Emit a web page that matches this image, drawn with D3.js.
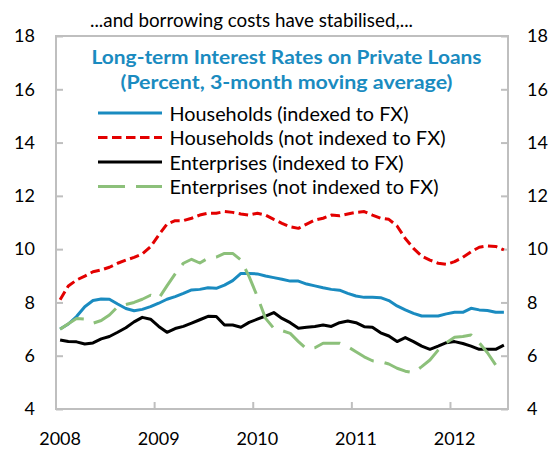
<!DOCTYPE html>
<html>
<head>
<meta charset="utf-8">
<script src="https://cdn.jsdelivr.net/npm/d3@7"></script>
<style>
  body { margin: 0; background: #fff; }
  svg { display: block; font-family: Lato, "Open Sans", sans-serif; }
</style>
</head>
<body>
<svg id="chart" width="555" height="451"></svg>
<script>
// monthly categories, Jan 2008 - Jul 2012
const months = d3.timeMonths(new Date(2008, 0, 1), new Date(2012, 7, 1)).map(d3.timeFormat("%Y-%m"));
const yearLabels = ["2008", "2009", "2010", "2011", "2012"];
const yTicks = [4, 6, 8, 10, 12, 14, 16, 18];

const householdsFX = [7.0, 7.19, 7.47, 7.84, 8.07, 8.13, 8.12, 7.94, 7.77, 7.69, 7.74, 7.84,
  7.97, 8.12, 8.22, 8.34, 8.47, 8.49, 8.55, 8.53, 8.65, 8.82, 9.09, 9.09,
  9.07, 8.99, 8.93, 8.87, 8.8, 8.8, 8.69, 8.62, 8.55, 8.49, 8.46, 8.34,
  8.24, 8.19, 8.19, 8.18, 8.07, 7.87, 7.72, 7.59, 7.49, 7.49, 7.49, 7.57,
  7.63, 7.63, 7.78, 7.72, 7.7, 7.63, 7.63];
const householdsNoFX = [8.1, 8.62, 8.84, 8.99, 9.15, 9.22, 9.32, 9.47, 9.59, 9.69, 9.82, 10.09,
  10.53, 10.94, 11.07, 11.07, 11.16, 11.28, 11.35, 11.35, 11.41, 11.38, 11.32, 11.28,
  11.35, 11.28, 11.12, 10.97, 10.84, 10.78, 10.94, 11.09, 11.16, 11.28, 11.25, 11.32,
  11.38, 11.41, 11.28, 11.16, 11.12, 10.87, 10.4, 10.03, 9.74, 9.59, 9.47, 9.43,
  9.53, 9.69, 9.9, 10.07, 10.12, 10.1, 9.97];
const enterprisesFX = [6.59, 6.53, 6.52, 6.44, 6.48, 6.63, 6.72, 6.88, 7.05, 7.27, 7.44, 7.37,
  7.1, 6.88, 7.02, 7.1, 7.22, 7.35, 7.48, 7.47, 7.15, 7.15, 7.07, 7.25,
  7.37, 7.49, 7.62, 7.4, 7.24, 7.03, 7.07, 7.1, 7.15, 7.1, 7.24, 7.3,
  7.24, 7.09, 7.07, 6.86, 6.74, 6.53, 6.68, 6.53, 6.36, 6.24, 6.36, 6.49,
  6.53, 6.46, 6.36, 6.24, 6.24, 6.24, 6.4];
const enterprisesNoFX = [6.99, 7.2, 7.4, 7.38, 7.22, 7.32, 7.53, 7.84, 7.92, 8.0, 8.12, 8.27,
  8.15, 8.62, 9.07, 9.47, 9.62, 9.48, 9.66, 9.7, 9.84, 9.84, 9.59, 8.97,
  8.22, 7.4, 7.03, 6.94, 6.84, 6.53, 6.25, 6.3, 6.47, 6.47, 6.47, 6.34,
  6.15, 5.96, 5.81, 5.78, 5.69, 5.53, 5.42, 5.36, 5.59, 5.84, 6.21, 6.49,
  6.69, 6.72, 6.78, 6.49, 6.11, 5.65, 5.63];

const seriesNames = ["Households (indexed to FX)", "Households (not indexed to FX)",
  "Enterprises (indexed to FX)", "Enterprises (not indexed to FX)"];

const series = [
  { name: seriesNames[0], values: householdsFX, color: "#1a8bc0", dash: null, legendW: 239 },
  { name: seriesNames[1], values: householdsNoFX, color: "#e30000", dash: "9.5,4.5", legendW: 276 },
  { name: seriesNames[2], values: enterprisesFX, color: "#000000", dash: null, legendW: 234 },
  { name: seriesNames[3], values: enterprisesNoFX, color: "#8cc07a", dash: "27,11", legendW: 269 }
];

const svg = d3.select("#chart");
const plot = { left: 56, right: 508, top: 36, bottom: 409 };

const x = d3.scaleBand().domain(months).range([plot.left, plot.right]);
const bw = x.bandwidth();
const y = d3.scaleLinear().domain([4, 18]).range([plot.bottom, plot.top]);

// plot frame
svg.append("rect")
  .attr("x", plot.left).attr("y", plot.top)
  .attr("width", plot.right - plot.left).attr("height", plot.bottom - plot.top)
  .attr("fill", "none").attr("stroke", "#bfbfbf").attr("stroke-width", 2);

// left / right value axes, ticks pointing inwards
const leftAxis = svg.append("g")
  .attr("transform", `translate(${plot.left},0)`)
  .call(d3.axisLeft(y).tickValues(yTicks).tickSizeInner(-7).tickSizeOuter(0).tickPadding(21));
const rightAxis = svg.append("g")
  .attr("transform", `translate(${plot.right},0)`)
  .call(d3.axisRight(y).tickValues(yTicks).tickSizeInner(-7).tickSizeOuter(0).tickPadding(19));

[leftAxis, rightAxis].forEach(g => {
  g.select(".domain").remove();
  g.selectAll(".tick line").attr("stroke", "#bfbfbf").attr("stroke-width", 2);
  g.selectAll(".tick text").attr("font-size", 18).attr("fill", "#000").attr("font-family", "Lato");
});

// year ticks on category boundaries
const janKeys = months.filter(m => m.endsWith("-01"));
svg.append("g").selectAll("line")
  .data(janKeys.slice(1))
  .join("line")
  .attr("x1", d => x(d)).attr("x2", d => x(d))
  .attr("y1", plot.bottom).attr("y2", plot.bottom - 7)
  .attr("stroke", "#bfbfbf").attr("stroke-width", 2);

// year labels under the January category
const xAxis = svg.append("g")
  .attr("transform", `translate(0,${plot.bottom})`)
  .call(d3.axisBottom(x).tickValues(janKeys)
    .tickFormat((d, i) => yearLabels[i]).tickSize(0).tickPadding(23));
xAxis.select(".domain").remove();
xAxis.selectAll(".tick text").attr("font-size", 18).attr("fill", "#000").attr("font-family", "Lato");

// lines
const line = d3.line()
  .x((d, i) => x(months[i]) + bw / 2)
  .y(d => y(d));

series.forEach(s => {
  svg.append("path")
    .datum(s.values)
    .attr("fill", "none")
    .attr("stroke", s.color)
    .attr("stroke-width", 3)
    .attr("stroke-linejoin", "round")
    .attr("stroke-dasharray", s.dash)
    .attr("d", line);
});

// titles
svg.append("text")
  .attr("x", 251.5).attr("y", 27)
  .attr("text-anchor", "middle")
  .attr("font-size", 19)
  .attr("textLength", 323).attr("lengthAdjust", "spacingAndGlyphs")
  .text("...and borrowing costs have stabilised,...");

const titleLines = ["Long-term Interest Rates on Private Loans", "(Percent, 3-month moving average)"];
const titleWidths = [390, 332];
titleLines.forEach((t, i) => {
  svg.append("text")
    .attr("x", 286.5).attr("y", 63.5 + i * 25)
    .attr("text-anchor", "middle")
    .attr("font-size", 19).attr("font-weight", "bold")
    .attr("fill", "#1a8bc0")
    .attr("textLength", titleWidths[i]).attr("lengthAdjust", "spacingAndGlyphs")
    .text(t);
});

// legend
const legend = svg.append("g");
series.forEach((s, i) => {
  const by = 120.5 + i * 24.5;
  legend.append("line")
    .attr("x1", 98).attr("x2", 162)
    .attr("y1", by - 7.5).attr("y2", by - 7.5)
    .attr("stroke", s.color).attr("stroke-width", 3)
    .attr("stroke-dasharray", s.dash);
  legend.append("text")
    .attr("x", 169.5).attr("y", by)
    .attr("font-size", 19)
    .attr("textLength", s.legendW).attr("lengthAdjust", "spacingAndGlyphs")
    .text(s.name);
});
</script>
</body>
</html>
